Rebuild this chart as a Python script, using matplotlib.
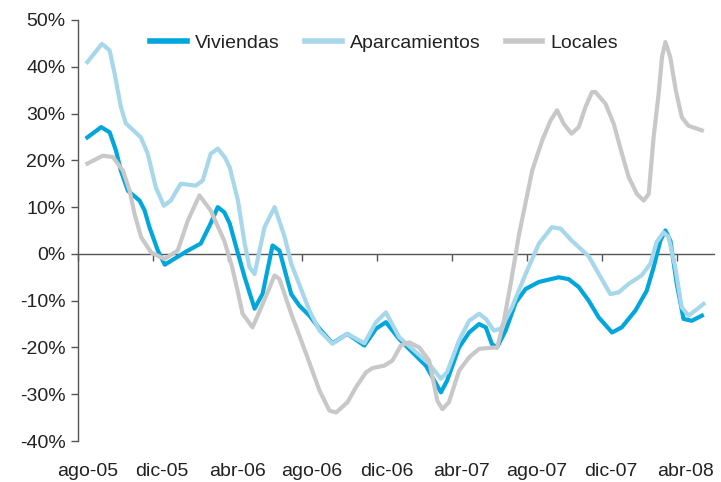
import matplotlib
matplotlib.use("Agg")
import matplotlib.pyplot as plt
import matplotlib.transforms as mtransforms

plt.rcParams['font.family'] = ['Liberation Sans', 'DejaVu Sans']

# x positions are months counted from ago-05 (0 = ago-05)
tick_labels = ["ago-05", "dic-05", "abr-06", "ago-06", "dic-06",
               "abr-07", "ago-07", "dic-07", "abr-08"]

viv_x = [0.0, 0.74, 1.19, 1.53, 1.79, 2.17, 2.79, 3.06, 3.32, 3.77, 4.14, 4.67,
         5.37, 6.06, 6.59, 6.97, 7.32, 7.61, 7.96, 8.41, 8.94, 9.37, 9.9, 10.27,
         10.9, 11.34, 11.87, 12.41, 13.1, 13.9, 14.81, 15.43, 15.96, 16.67, 17.37,
         18.1, 18.9, 19.23, 19.87, 20.41, 20.94, 21.3, 21.63, 21.9, 22.36, 22.9,
         23.43, 24.14, 25.2, 25.73, 26.27, 26.8, 27.34, 28.05, 28.57, 29.3, 29.9,
         30.27, 30.63, 30.9, 31.17, 31.51, 31.87, 32.31, 32.85]
viv_y = [24.9, 27.1, 26.0, 22.1, 17.8, 13.5, 11.4, 9.3, 5.7, 0.7, -2.3, -1.0,
         0.7, 2.2, 6.5, 10.0, 8.9, 6.5, 1.4, -5.0, -11.7, -8.5, 1.8, 0.7,
         -8.6, -11.1, -13.2, -16.0, -19.1, -17.1, -19.6, -16.0, -14.6, -18.2, -21.0,
         -23.9, -29.6, -27.1, -20.0, -16.8, -15.0, -15.7, -19.3, -20.0, -16.4, -10.4,
         -7.5, -6.0, -5.0, -5.4, -7.1, -10.0, -13.6, -16.8, -15.7, -12.1, -7.9,
         -2.9, 2.8, 5.0, 2.8, -6.4, -13.9, -14.3, -13.2]

apa_x = [0.0, 0.78, 1.19, 1.46, 1.79, 2.06, 2.86, 3.23, 3.66, 4.09, 4.46, 4.99,
         5.79, 6.17, 6.59, 6.97, 7.34, 7.61, 8.05, 8.41, 8.67, 8.94, 9.47, 10.01,
         10.55, 10.9, 11.87, 12.41, 13.1, 13.9, 14.81, 15.43, 15.96, 16.67, 17.37,
         18.27, 18.9, 19.23, 19.87, 20.41, 20.94, 21.3, 21.73, 22.1, 22.7, 23.43,
         24.14, 24.83, 25.3, 25.9, 26.8, 27.34, 27.96, 28.41, 28.94, 29.63, 30.1,
         30.43, 30.8, 31.07, 31.43, 31.77, 32.14, 32.5, 32.94]
apa_y = [41.0, 44.9, 43.5, 38.5, 31.4, 27.9, 24.9, 21.4, 14.2, 10.3, 11.4, 15.0,
         14.6, 15.7, 21.4, 22.5, 20.7, 18.5, 11.4, 2.2, -2.9, -4.3, 5.7, 10.0,
         3.6, -2.1, -12.1, -16.4, -19.2, -17.1, -19.1, -14.6, -12.5, -17.8, -20.3,
         -23.5, -26.7, -25.3, -18.5, -14.3, -12.8, -13.9, -16.4, -16.0, -11.4, -4.3,
         2.2, 5.7, 5.4, 2.8, -0.5, -4.3, -8.6, -8.2, -6.4, -4.6, -2.1,
         2.5, 4.6, 3.6, -2.9, -11.4, -13.2, -12.1, -10.7]

loc_x = [0.0, 0.83, 1.37, 1.9, 2.26, 2.52, 2.87, 3.41, 4.12, 4.83, 5.37, 5.99,
         6.59, 7.32, 7.72, 8.04, 8.3, 8.83, 9.3, 10.01, 10.27, 10.9, 11.7, 12.41,
         12.94, 13.3, 13.91, 14.36, 14.9, 15.25, 15.87, 16.31, 16.76, 17.21, 17.74,
         18.27, 18.71, 18.98, 19.33, 19.87, 20.41, 20.94, 21.47, 21.91, 22.27, 22.63,
         23.07, 23.78, 24.31, 24.76, 25.11, 25.47, 25.88, 26.27, 26.63, 26.98, 27.16,
         27.7, 28.14, 28.58, 28.94, 29.38, 29.74, 30.01, 30.27, 30.54, 30.72, 30.9,
         31.16, 31.46, 31.78, 32.13, 32.85]
loc_y = [19.3, 21.0, 20.7, 17.8, 13.5, 8.6, 3.6, 0.3, -1.1, 0.7, 7.1, 12.5,
         9.3, 2.8, -2.5, -8.0, -12.8, -15.7, -11.4, -4.6, -5.4, -12.8, -21.4, -29.2,
         -33.5, -33.9, -31.7, -28.5, -25.3, -24.4, -23.9, -22.8, -19.6, -18.9, -20.0,
         -22.8, -31.4, -33.2, -31.7, -25.0, -22.1, -20.3, -20.1, -20.0, -14.3, -6.4,
         4.0, 17.8, 24.2, 28.5, 30.7, 27.8, 25.7, 27.1, 31.4, 34.6, 34.6,
         32.1, 27.8, 21.4, 16.4, 12.8, 11.4, 12.8, 24.9, 34.2, 42.1, 45.3,
         42.1, 34.9, 29.2, 27.4, 26.4]

c_viv = "#00a6dc"
c_apa = "#a7d7ea"
c_loc = "#c8c8c8"
axis_col = "#555555"
txt_col = "#222222"
fs = 14

fig = plt.figure(figsize=(7.21, 4.82), dpi=100)
ax = fig.add_axes([78 / 721, 1 - 441 / 482, (714 - 78) / 721, (441 - 20) / 482])

lw = 3.0
ax.plot(viv_x, viv_y, color=c_viv, lw=lw, label="Viviendas", solid_joinstyle="round", zorder=3)
ax.plot(apa_x, apa_y, color=c_apa, lw=lw, label="Aparcamientos", solid_joinstyle="round", zorder=4)
ax.plot(loc_x, loc_y, color=c_loc, lw=lw, label="Locales", solid_joinstyle="round", zorder=5)

ax.set_xlim(-0.5, 33.5)
ax.set_ylim(-40, 50)

ax.spines['top'].set_visible(False)
ax.spines['right'].set_visible(False)
ax.spines['left'].set_color(axis_col)
ax.spines['bottom'].set_color(axis_col)
ax.spines['left'].set_linewidth(1.0)
ax.spines['bottom'].set_linewidth(1.0)
ax.spines['bottom'].set_position(('data', 0))

yt = list(range(-40, 51, 10))
ax.set_yticks(yt)
ax.set_yticklabels([f"{v}%" for v in yt])
ax.tick_params(axis='y', direction='out', length=5, width=1.0, color=axis_col,
               labelsize=fs, labelcolor=txt_col, pad=4)

xt = [-0.5 + 4 * k for k in range(9)]
ax.set_xticks(xt)
ax.set_xticklabels([])
ax.tick_params(axis='x', direction='out', length=5, width=1.0, color=axis_col)

trans = mtransforms.blended_transform_factory(ax.transData, ax.transAxes)
for i, lab in enumerate(tick_labels):
    ax.text(4 * i, -0.072, lab, transform=trans, ha='center', va='center',
            fontsize=fs, color=txt_col)

leg = fig.legend(loc='center left', bbox_to_anchor=(150 / 721, 1 - 43 / 482),
                 ncol=3, frameon=False, fontsize=fs, handlelength=1.9,
                 handletextpad=0.4, columnspacing=1.3, borderpad=0, borderaxespad=0)
for t in leg.get_texts():
    t.set_color(txt_col)
for h in leg.get_lines():
    h.set_linewidth(4)

fig.savefig("out.png", dpi=100)
